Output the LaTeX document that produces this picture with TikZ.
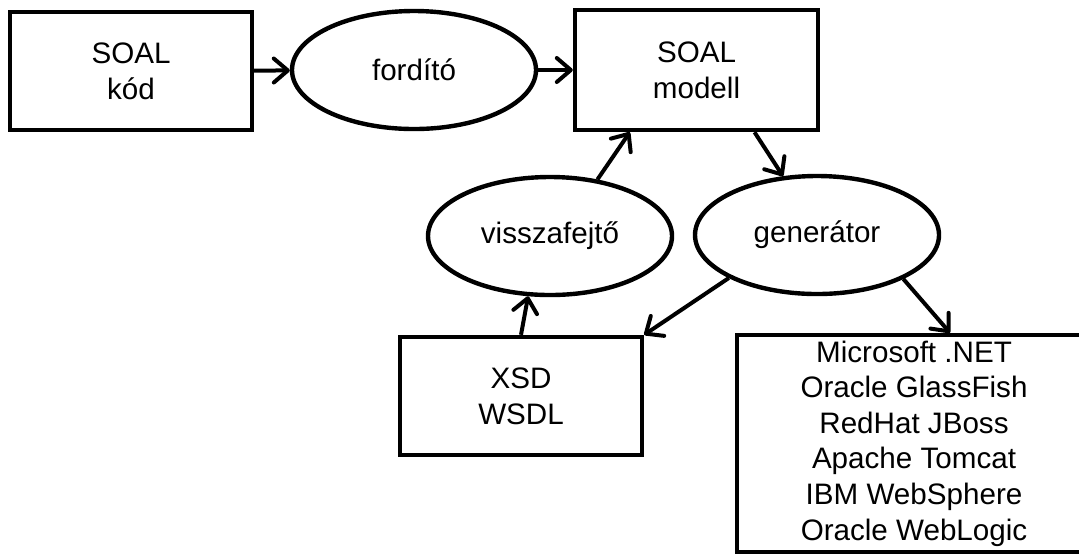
\documentclass[tikz,border=0pt]{standalone}
\usepackage{fontspec}
\setmainfont{Liberation Sans}
\usepackage{tikz}
\usetikzlibrary{shapes.geometric,arrows.meta}

\begin{document}
\begin{tikzpicture}[x=0.5pt,y=-0.5pt,
    box/.style={draw, line width=2.2pt, rectangle, align=center, inner sep=0pt,
        font=\fontsize{14.8}{17.8}\selectfont},
    oval/.style={draw, line width=2.2pt, ellipse, inner sep=0pt,
        minimum width=122pt, minimum height=59pt, font=\fontsize{14.8}{17.8}\selectfont},
    conn/.style={line width=2pt, -{Straight Barb[length=7pt,width=12pt,round]}}]
    \useasboundingbox (0,0) rectangle (1079,554);
    \clip (0,0) rectangle (1079,554);

    % Top row
    \node[box, minimum width=121pt, minimum height=59pt] (kod) at (131,71) {SOAL\\kód};
    \node[oval] (ford) at (414,70) {fordító};
    \node[box, minimum width=121.5pt, minimum height=60pt] (modell) at (696.5,70) {SOAL\\modell};

    % Middle row
    \node[oval] (vissza) at (550,236) {visszafejtő};
    \node[oval] (gen) at (817,235) {generátor};

    % Bottom row
    \node[box, minimum width=121pt, minimum height=59pt] (xsd) at (521,396) {XSD\\WSDL};
    \node[box, minimum width=177pt, minimum height=108.5pt] (plat) at (914,443.5)
        {Microsoft .NET\\Oracle GlassFish\\RedHat JBoss\\Apache Tomcat\\IBM WebSphere\\Oracle WebLogic};

    % Connections
    \draw[conn] (kod) -- (ford);
    \draw[conn] (ford) -- (modell);
    \draw[conn] (vissza.50) -- (modell.223);
    \draw[conn] (modell.313) -- (gen.120);
    \draw[conn] (gen.206) -- (xsd.north east);
    \draw[conn] (gen.333) -- (plat.72);
    \draw[conn] (xsd.north) -- (vissza.250);
\end{tikzpicture}
\end{document}
